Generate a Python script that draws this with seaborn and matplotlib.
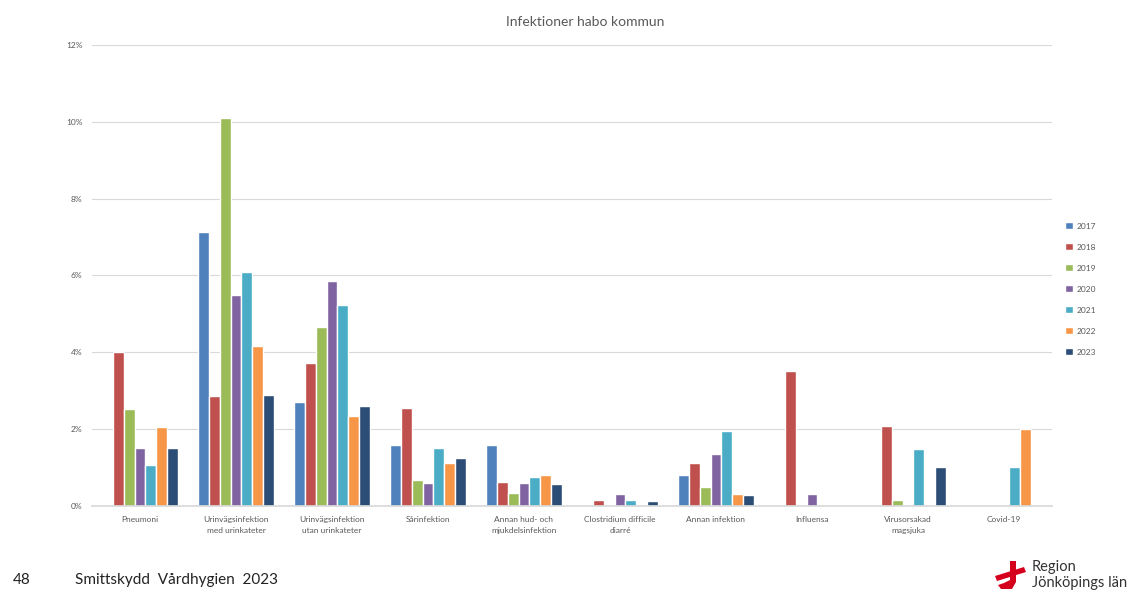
import numpy as np
import pandas as pd
import matplotlib
matplotlib.use("Agg")
import matplotlib.pyplot as plt
import seaborn as sns
from matplotlib.patches import Polygon

# === DATA (% of residents) ===
categories = [
    "Pneumoni",
    "Urinvägsinfektion\nmed urinkateter",
    "Urinvägsinfektion\nutan urinkateter",
    "Sårinfektion",
    "Annan hud- och\nmjukdelsinfektion",
    "Clostridium difficile\ndiarré",
    "Annan infektion",
    "Influensa",
    "Virusorsakad\nmagsjuka",
    "Covid-19",
]
years = ["2017", "2018", "2019", "2020", "2021", "2022", "2023"]

v2017 = [0.00, 7.13, 2.70, 1.59, 1.59, 0.00, 0.80, 0.00, 0.00, 0.00]
v2018 = [4.00, 2.85, 3.73, 2.55, 0.63, 0.16, 1.12, 3.52, 2.08, 0.00]
v2019 = [2.53, 10.09, 4.67, 0.68, 0.33, 0.00, 0.50, 0.00, 0.16, 0.00]
v2020 = [1.50, 5.49, 5.85, 0.61, 0.61, 0.31, 1.35, 0.31, 0.00, 0.00]
v2021 = [1.06, 6.09, 5.24, 1.50, 0.76, 0.16, 1.94, 0.00, 1.49, 1.01]
v2022 = [2.06, 4.17, 2.33, 1.12, 0.81, 0.00, 0.31, 0.00, 0.00, 2.00]
v2023 = [1.51, 2.90, 2.60, 1.26, 0.56, 0.13, 0.29, 0.00, 1.01, 0.00]

palette = ["#4F81BD", "#C0504D", "#9BBB59", "#8064A2", "#4BACC6", "#F79646", "#2C4D75"]

rows = []
for yr, vals in zip(years, [v2017, v2018, v2019, v2020, v2021, v2022, v2023]):
    for cat, v in zip(categories, vals):
        rows.append({"Infektion": cat, "År": yr, "Andel": v})
df = pd.DataFrame(rows)

# === PLOT ===
sns.set_theme(style="white")
plt.rcParams["font.family"] = ["Lato", "DejaVu Sans"]

fig = plt.figure(figsize=(11.4, 5.92), dpi=100)
ax = fig.add_axes([0.0807, 0.1453, 0.8421, 0.7787])

sns.barplot(data=df, x="Infektion", y="Andel", hue="År", order=categories,
            hue_order=years, palette=palette, width=0.8, saturation=1,
            edgecolor="white", linewidth=1.0, errorbar=None, ax=ax)

ax.set_ylim(0, 12)
ax.set_yticks(np.arange(0, 13, 2))
ax.set_yticklabels([f"{t}%" for t in range(0, 13, 2)])
ax.yaxis.grid(True, color="#D9D9D9", linewidth=0.8)
ax.set_axisbelow(True)
for s in ["top", "right", "left"]:
    ax.spines[s].set_visible(False)
ax.spines["bottom"].set_color("#D9D9D9")
ax.tick_params(axis="both", length=0, labelsize=6, colors="#595959", pad=7)
for lbl in ax.get_xticklabels():
    lbl.set_linespacing(1.7)
ax.set_xlabel("")
ax.set_ylabel("")

ax.get_legend().remove()
handles, labels = ax.get_legend_handles_labels()
fig.legend(handles, labels, loc="upper left", bbox_to_anchor=(0.928, 0.637),
           frameon=False, fontsize=6, labelcolor="#595959", handlelength=0.9,
           handleheight=0.9, handletextpad=0.4, labelspacing=1.64)

fig.text(0.513, 0.962, "Infektioner habo kommun", ha="center", va="center",
         fontsize=10, color="#595959")

# footer
fig.text(0.011, 0.020, "48", fontsize=11, color="#222222", va="center")
fig.text(0.066, 0.020, "Smittskydd  Vårdhygien  2023", fontsize=11,
         color="#222222", va="center")

# logo (Region Jönköpings län)
red = "#D5001C"
W, H = 1140.0, 592.0
def px(pts):
    return [[x / W, 1 - y / H] for x, y in pts]
# vertical stroke with hook to the left
fig.patches.append(Polygon(px([(1010, 561), (1016, 561), (1016, 582), (1012, 589),
                               (1001, 589), (998, 585), (1004, 583), (1010, 580)]),
                           closed=True, transform=fig.transFigure,
                           facecolor=red, edgecolor="none"))
# diagonal crossing stroke
fig.patches.append(Polygon(px([(995, 576), (1024, 567), (1026, 572), (997, 581)]),
                           closed=True, transform=fig.transFigure,
                           facecolor=red, edgecolor="none"))
fig.text(1032 / W, 1 - 567 / H, "Region", fontsize=10.5, color="#333333",
         va="center")
fig.text(1032 / W, 1 - 583 / H, "Jönköpings län", fontsize=10.5, color="#333333",
         va="center")

fig.savefig("out.png", dpi=100)
plt.close(fig)
